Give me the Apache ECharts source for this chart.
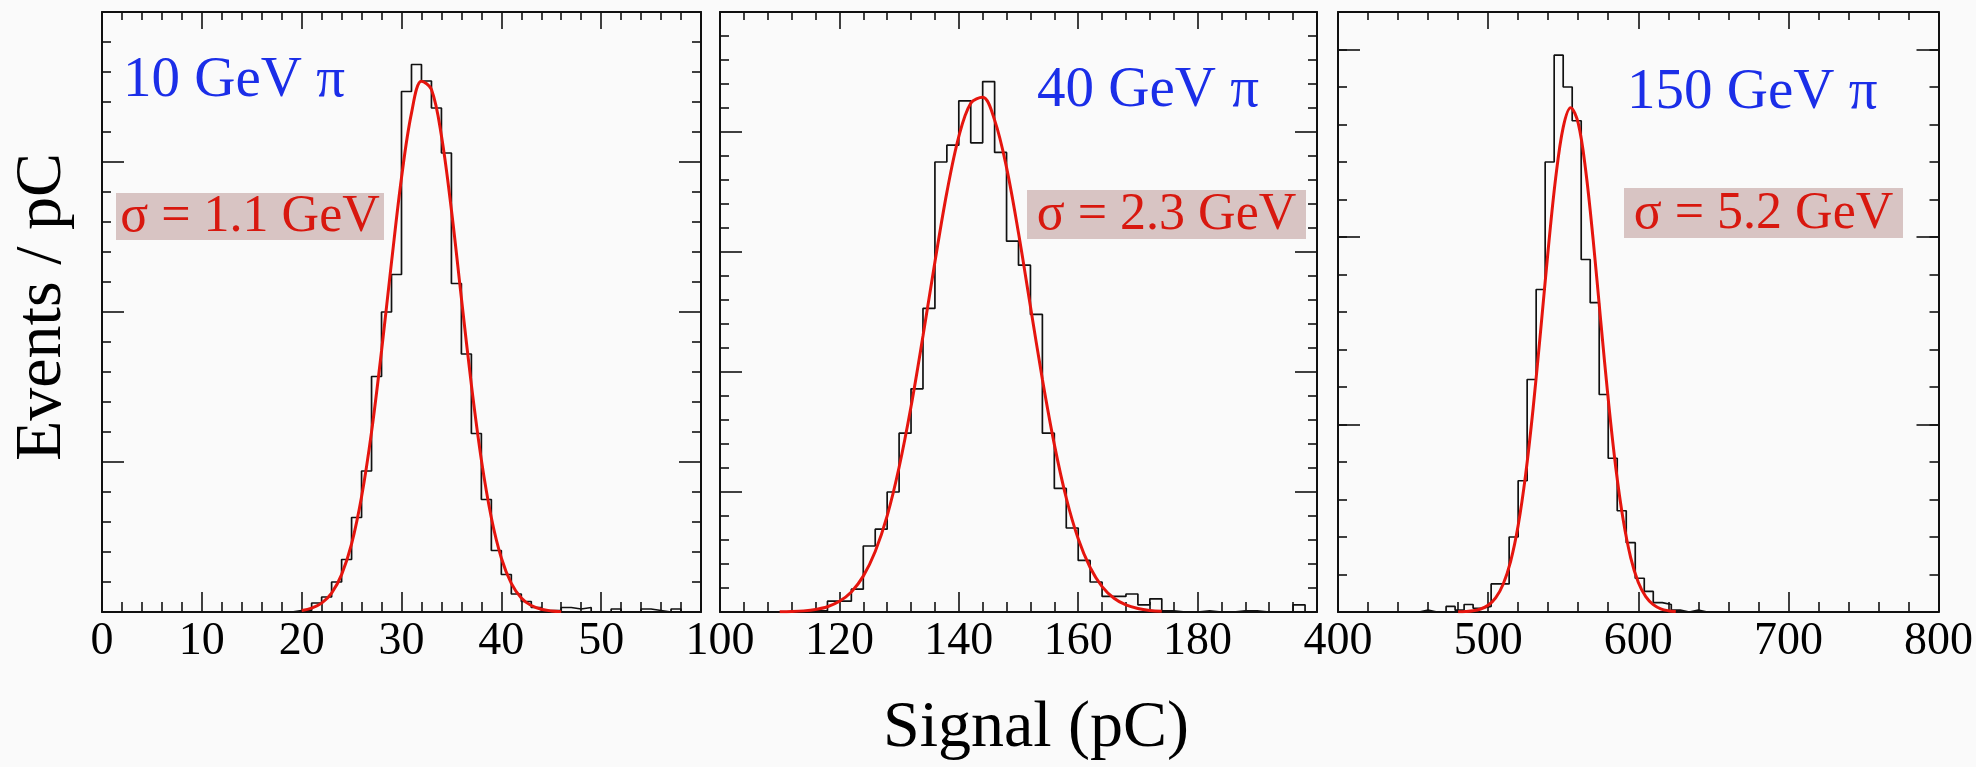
<!DOCTYPE html>
<html><head><meta charset="utf-8">
<script src="https://cdn.jsdelivr.net/npm/echarts@6/dist/echarts.min.js"></script>
<style>html,body{margin:0;padding:0;background:#fafafa}#c{width:1976px;height:767px}</style>
</head><body><div id="c"></div>
<script>
// ---------- DATA ----------
// Panel 1: 10 GeV pi, bins of 1 pC starting at 18 pC
const p1BinStart = 18, p1BinWidth = 1;
const p1Counts = [0,1,1,6,10,20,35,63,94,157,200,225,347,365,354,336,306,219,172,119,75,41,25,12,7,3,1,1,3,2,3,0,0,2,0,0,2,1,0,2,0,0];
const p1FitX = [20,21,22,23,24,25,26,27,28,29,30,31,32,33,34,35,36,37,38,39,40,41,42,43,44,45,46];
const p1FitY = [1.0,2.6,5.9,12.6,24.9,45.4,76.8,120.1,174,233.2,289.5,332.6,353.8,348.4,317.5,268,209.3,151.4,101.4,62.8,36,19.1,9.4,4.3,1.8,0.7,0.25];

// Panel 2: 40 GeV pi, bins of 2 pC starting at 108 pC
const p2BinStart = 108, p2BinWidth = 2;
const p2Counts = [0,0,1,1,1,9,9,19,55,69,100,149,186,253,375,389,426,391,442,383,309,289,248,149,103,70,43,25,13,13,15,6,11,1,0,0,1,0,0,1,1,0,0,0,6,0];
const p2FitX = [110,112,114,116,118,120,122,124,126,128,130,132,134,136,138,140,142,144,146,148,150,152,154,156,158,160,162,164,166,168,170,172,174];
const p2FitY = [0.16,0.4,0.94,2.1,4.4,8.9,16.7,29.9,50.4,80.1,120.6,171.2,230,291.7,349.7,396.2,424,428.9,409.9,370.3,315.8,254.6,194,139.7,95,61,37.1,21.2,11.5,5.9,2.9,1.3,0.6];

// Panel 3: 150 GeV pi, bins of 6 pC starting at 448 pC
const p3BinStart = 448, p3BinWidth = 6;
const p3Counts = [0,1,0,0,3,1,4,2,3,15,15,40,70,124,172,240,297,280,262,188,165,116,82,54,37,18,11,5,4,1,0,1,0];
const p3FitX = [480,485,490,495,500,505,510,515,520,525,530,535,540,545,550,555,560,565,570,575,580,585,590,595,600,605,610,615,620,625];
const p3FitY = [0.09,0.25,0.65,1.6,3.6,7.5,14.8,27,46.1,73.4,108.8,150.2,193.2,231.5,258.5,269,260.7,235.5,198.2,155.3,113.5,77.2,49,28.9,15.9,8.2,3.9,1.7,0.7,0.26];

// Axis ranges / tick steps
const xRanges = [[0,60,10],[100,200,20],[400,800,100]];
const yMaxes = [400,500,320];
const beamLabels = ['10 GeV \u03C0','40 GeV \u03C0','150 GeV \u03C0'];
const sigmaLabels = ['\u03C3 = 1.1 GeV','\u03C3 = 2.3 GeV','\u03C3 = 5.2 GeV'];
const xTitle = 'Signal (pC)';
const yTitle = 'Events / pC';

// ---------- LAYOUT / STYLE ----------
const layout = [
  {left:102, width:599, hideMax:true, sepMinor:false,
   beam:{x:123, y:81}, box:{x:116, y:193, w:268, h:47}},
  {left:720, width:597, hideMax:true, sepMinor:false,
   beam:{x:1037, y:91}, box:{x:1027, y:190, w:279, h:49}},
  {left:1338, width:602, hideMax:false, sepMinor:true,
   beam:{x:1627, y:93}, box:{x:1624, y:188, w:279, h:50}}
];
const TOP = 12, HEIGHT = 600;
const FONT = '"Liberation Serif", "DejaVu Serif", serif';
const BLK = '#111';

function histPoints(start, width, counts) {
  const pts = counts.map((c, i) => [start + i * width, c]);
  pts.push([start + counts.length * width, 0]);
  return pts;
}
function zip(xs, ys) { return xs.map((x, i) => [x, ys[i]]); }

const grids = [], xAxes = [], yAxes = [], series = [], graphics = [];
const hists = [histPoints(p1BinStart,p1BinWidth,p1Counts), histPoints(p2BinStart,p2BinWidth,p2Counts), histPoints(p3BinStart,p3BinWidth,p3Counts)];
const fits = [zip(p1FitX,p1FitY), zip(p2FitX,p2FitY), zip(p3FitX,p3FitY)];

layout.forEach((L, gi) => {
  grids.push({left:L.left, top:TOP, width:L.width, height:HEIGHT, containLabel:false});
  const [xmin, xmax, xint] = xRanges[gi];
  const lineStyle = {color:BLK, width:2};
  const tickStyle = {color:BLK, width:1.6};
  const xb = xAxes.length;
  xAxes.push({type:'value', gridIndex:gi, position:'bottom', min:xmin, max:xmax, interval:xint,
    axisLine:{show:true, onZero:false, lineStyle},
    axisTick:{show:true, inside:true, length:20, lineStyle:tickStyle},
    minorTick:{show:true, splitNumber:5, length:10, lineStyle:tickStyle},
    axisLabel:{show:true, margin:7, fontFamily:FONT, fontSize:46, color:'#000',
      showMinLabel:true, showMaxLabel:!L.hideMax},
    splitLine:{show:false}, minorSplitLine:{show:false}});
  xAxes.push({type:'value', gridIndex:gi, position:'top', min:xmin, max:xmax, interval:xint,
    axisLine:{show:true, onZero:false, lineStyle},
    axisTick:{show:true, inside:true, length:17, lineStyle:tickStyle},
    minorTick:{show:true, splitNumber:5, length:8, lineStyle:tickStyle},
    axisLabel:{show:false}, splitLine:{show:false}});
  const yl = yAxes.length;
  ['left','right'].forEach(pos => {
    yAxes.push({type:'value', gridIndex:gi, position:pos, min:0, max:yMaxes[gi], interval:100,
      axisLine:{show:true, onZero:false, lineStyle},
      axisTick:{show:true, inside:true, length:22, lineStyle:tickStyle},
      minorTick:{show:!L.sepMinor, splitNumber:5, length:9, lineStyle:tickStyle},
      axisLabel:{show:false}, splitLine:{show:false}});
    if (L.sepMinor) {
      yAxes.push({type:'value', gridIndex:gi, position:pos, min:0, max:yMaxes[gi], interval:20,
        axisLine:{show:false},
        axisTick:{show:true, inside:true, length:9, lineStyle:tickStyle},
        axisLabel:{show:false}, splitLine:{show:false}});
    }
  });
  series.push({type:'line', xAxisIndex:xb, yAxisIndex:yl, data:hists[gi], step:'end',
    symbol:'none', lineStyle:{color:BLK, width:1.7}, z:3, animation:false});
  series.push({type:'line', xAxisIndex:xb, yAxisIndex:yl, data:fits[gi], smooth:0.35,
    symbol:'none', lineStyle:{color:'#e5150e', width:3}, z:4, animation:false});

  graphics.push({type:'text', x:L.beam.x, y:L.beam.y, z:10,
    style:{text:beamLabels[gi], font:'57px ' + FONT, fill:'#1b2ee8', textAlign:'left', textVerticalAlign:'middle'}});
  graphics.push({type:'rect', x:L.box.x, y:L.box.y, z:9,
    shape:{width:L.box.w, height:L.box.h}, style:{fill:'#d8c4c3'}});
  graphics.push({type:'text', x:L.box.x + L.box.w/2, y:L.box.y + L.box.h/2 + 1, z:10,
    style:{text:sigmaLabels[gi], font:'52px ' + FONT, fill:'#d8180f', textAlign:'center', textVerticalAlign:'middle'}});
});

graphics.push({type:'text', x:43, y:307, rotation:Math.PI/2, z:10,
  style:{text:yTitle, font:'66px ' + FONT, fill:'#000', textAlign:'center', textVerticalAlign:'middle'}});
graphics.push({type:'text', x:1036, y:729, z:10,
  style:{text:xTitle, font:'66px ' + FONT, fill:'#000', textAlign:'center', textVerticalAlign:'middle'}});

const chart = echarts.init(document.getElementById('c'), null, {renderer:'canvas'});
chart.setOption({
  animation:false,
  backgroundColor:'#fafafa',
  grid:grids, xAxis:xAxes, yAxis:yAxes, series, graphic:graphics
});
</script></body></html>
